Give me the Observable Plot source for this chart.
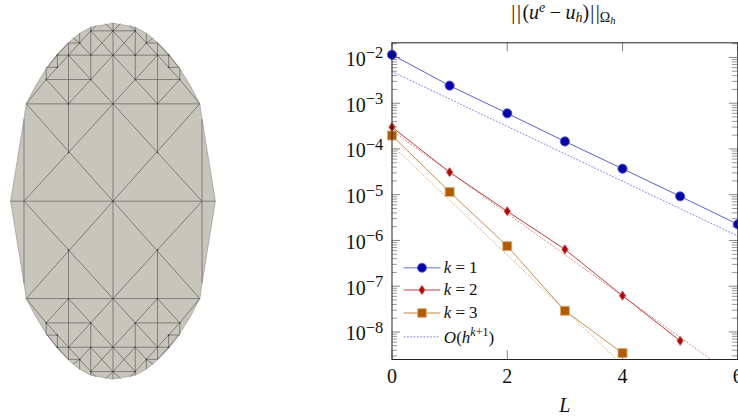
<!DOCTYPE html>
<html>
<head>
<meta charset="utf-8">
<script src="https://cdn.jsdelivr.net/npm/d3@7"></script>
<script src="https://cdn.jsdelivr.net/npm/@observablehq/plot@0.6"></script>
<style>
html,body{margin:0;padding:0;background:#fff;overflow:hidden}
#wrap{position:relative;width:738px;height:417px;overflow:hidden}
#wrap svg{position:absolute;left:0;top:0;background:none;overflow:visible}
</style>
</head>
<body>
<div id="wrap"></div>
<script>
// ---- convergence data
const levels = [0,1,2,3,4,5,6];
const k1Values = [1.145e-2,2.42e-3,6.0e-4,1.46e-4,3.7e-5,9.2e-6,2.26e-6];
const k2Values = [3.0e-4,3.1e-5,4.35e-6,6.4e-7,6.2e-8,6.4e-9];
const k3Values = [1.97e-4,1.15e-5,7.5e-7,2.9e-8,3.45e-9];
const rateLevels = [0,6];
const rate1Values = [4.9e-3,1.25e-6];
const rate2Levels = [0,6];
const rate2Values = [2.5e-4,9.5e-10];
const rate3Levels = [0,5];
const rate3Values = [1.2e-4,1.2e-10];
const xTicks = [0,2,4,6];
const decades = [-2,-3,-4,-5,-6,-7,-8];
const minorFactors = [2,3,4,5,6,7,8,9];
const yDomain = [2.5e-9,2.09e-2];
const xDomain = [0,6];
// legend rows
const legendX = [0.21,0.83];
const legendMarkX = 0.52;
const legendTextX = 0.9;
const legendY = [2.53e-7,8.26e-8,2.6e-8,7.8e-9];
// colours
const blueLine="#5a5fd0", blueFill="#0505a5", blueEdge="#5a5ad8";
const redLine="#c2403f", redFill="#a80a0a", redEdge="#cc5a5a";
const orangeLine="#c98c4c", orangeFill="#b05c00", orangeEdge="#dcae80";

// ---- mesh (one quadrant, mirrored)
const outlineQuadrant = [[0,14.62],[2,14.3],[3,13.8],[4,13.05],[5,12.1],[6,10.9],[7,9.4],[7.8,8],[8,6.75],[9.2,0]];
const axisEdges = [[0,-14.62,0,14.62],[-9.2,0,9.2,0]];
const quadrantEdges = [
 [8,0,8,6.75],[0,8,7.8,8],[0,0,7.8,8],[8,0,0,8],[4,4,4,13],
 [0,8,2,10],[2,10,4,12],[4,8,6,10],[4,8,2,10],[2,10,0,12],[6,10,7.8,8],[6,10,4,12],
 [2,10,6,10],[2,10,2,14.3],[0,12,5,12],[0,14,2,14],[0,12,2,14],[2,12,0,14],[4,12,2,14],
 [2,12,3,13],[3,13,3.6,13.4],[3,13,4,13],[3,13,3,13.8],[4,13,5,12],[5,11,5,12],[5,12,6,10.9],
 [5,11,6,11],[6,10,6,10.9],[0,14,0.7,14.6],[2,14,1.5,14.45]
];
const quadrantNodes = [[2,14],[2,12],[4,12],[3,13],[2,10],[6,10],[4,8],[5,12],[5,11],[4,4]];
const axisNodes = [[0,14],[0,12],[0,8],[0,0],[0,-8],[0,-12],[0,-14]];
const signs = [[1,1],[-1,1],[1,-1],[-1,-1]];

const outline = [
  ...outlineQuadrant,
  ...outlineQuadrant.slice(0,-1).reverse().map(([u,v])=>[u,-v]),
  ...outlineQuadrant.slice(1).map(([u,v])=>[-u,-v]),
  ...outlineQuadrant.slice(0,-1).reverse().map(([u,v])=>[-u,v])
];
const edges = axisEdges.concat(signs.flatMap(([a,b])=>quadrantEdges.map(([p,q,r,s])=>[a*p,b*q,a*r,b*s])));
const nodes = axisNodes.concat(signs.flatMap(([a,b])=>quadrantNodes.map(([p,q])=>[a*p,b*q])));

const meshPlot = Plot.plot({
  width:230, height:417, margin:0,
  x:{domain:[-10,10],range:[1.25,223.75],axis:null},
  y:{domain:[-16,16],range:[395.4,6],axis:null},
  marks:[
    Plot.line(outline,{x:d=>d[0],y:d=>d[1],fill:"#c8c5bd",stroke:"#9a9993",strokeWidth:0.7,curve:"linear-closed"}),
    Plot.link(edges,{x1:d=>d[0],y1:d=>d[1],x2:d=>d[2],y2:d=>d[3],stroke:"#565652",strokeWidth:0.75,strokeOpacity:0.85}),
    Plot.dot(nodes,{x:d=>d[0],y:d=>d[1],r:0.85,fill:"#44443f"})
  ]
});

// ---- rich (math) labels
const big = 20, exp = 16.5, legendSup = 12, titleSup = 14;
const power = e => [{s:"10",size:big},{s:"\u2212"+e,size:exp,rise:7.5}];
const keyLabel = i => "k = "+i;
const math = new Map([
  ...decades.map(d=>["1e"+d,power(-d)]),
  ...[1,2,3].map(i=>[keyLabel(i),[{s:"k",i:true},{s:"=",dx:4},{s:String(i),dx:4}]]),
  ["O(h^{k+1})",[{s:"O",i:true},{s:"("},{s:"h",i:true},{s:"k",i:true,size:legendSup,rise:7},{s:"+1",size:legendSup,rise:7},{s:")"}]],
  ["title",[{s:"|"},{s:"|",dx:1.5},{s:"(",dx:1.5},{s:"u",i:true},{s:"e",i:true,size:titleSup,rise:7},{s:"\u2212",dx:4.5},{s:"u",i:true,dx:4.5},{s:"h",i:true,size:titleSup,rise:-3},{s:")"},{s:"|",dx:1},{s:"|",dx:1.5},{s:"\u03a9",size:titleSup,rise:-3},{s:"h",i:true,size:10.5,rise:-5.5}]]
]);
function applyMath(svg){
  d3.select(svg).selectAll("text").each(function(){
    const spans = math.get(this.textContent);
    if(!spans) return;
    const t = d3.select(this).text("");
    let prev = 0;
    for(const sp of spans){
      const rise = sp.rise||0;
      const ts = t.append("tspan").text(sp.s).attr("dy",prev-rise);
      if(sp.dx) ts.attr("dx",sp.dx);
      if(sp.size) ts.attr("font-size",sp.size);
      if(sp.i) ts.attr("font-style","italic");
      prev = rise;
    }
  });
}

// ---- convergence plot
const series = (xs,ys)=>ys.map((v,i)=>({L:xs[i],v}));
const thinDiamond = {draw(ctx,size){const r=Math.sqrt(size/Math.PI);ctx.moveTo(0,-r);ctx.lineTo(r*0.68,0);ctx.lineTo(0,r);ctx.lineTo(-r*0.68,0);ctx.closePath();}};
const minorValues = decades.concat([-9,-1]).flatMap(e=>minorFactors.map(f=>f*10**e)).filter(v=>v>yDomain[0]&&v<yDomain[1]);
const majorValues = decades.map(e=>10**e);
const frameW = 345.8, frameH = 316.7;
const dash = "1,2.3";
const rows = [
  {y:legendY[0],line:"#9a9ee4",w:1.6,fill:blueFill,edge:blueEdge,sym:"circle",r:4.5,label:keyLabel(1)},
  {y:legendY[1],line:redLine,w:1,fill:redFill,edge:redEdge,sym:thinDiamond,r:4.6,label:keyLabel(2)},
  {y:legendY[2],line:"#dcae80",w:1.6,fill:orangeFill,edge:orangeEdge,sym:"square",r:4.9,label:keyLabel(3)}
];
const lineMark=(d,stroke,w=1)=>Plot.line(d,{x:"L",y:"v",stroke,strokeWidth:w,clip:"frame"});
const dotted=(d,stroke)=>Plot.line(d,{x:"L",y:"v",stroke,strokeWidth:0.8,strokeDasharray:dash,clip:"frame"});
const markers=(d,fill,edge,symbol,r)=>Plot.dot(d,{x:"L",y:"v",fill,stroke:edge,strokeWidth:0.9,symbol,r});

const chart = Plot.plot({
  width:738, height:417,
  marginLeft:391.5, marginRight:0.7, marginTop:42.3, marginBottom:58,
  style:{fontFamily:"'Liberation Serif',serif",color:"#111",background:"none"},
  x:{domain:xDomain,label:null},
  y:{type:"log",domain:yDomain,label:null},
  marks:[
    Plot.tickY(minorValues,{y:d=>d,insetRight:frameW-5.5,stroke:"#333",strokeWidth:0.5}),
    Plot.tickY(minorValues,{y:d=>d,insetLeft:frameW-5.5,stroke:"#333",strokeWidth:0.5}),
    Plot.tickY(majorValues,{y:d=>d,insetRight:frameW-8.5,stroke:"#333",strokeWidth:0.6}),
    Plot.tickY(majorValues,{y:d=>d,insetLeft:frameW-8.5,stroke:"#333",strokeWidth:0.6}),
    Plot.tickX(xTicks,{x:d=>d,insetBottom:frameH-9,stroke:"#333",strokeWidth:0.6}),
    Plot.tickX(xTicks,{x:d=>d,insetTop:frameH-9,stroke:"#333",strokeWidth:0.6}),
    Plot.axisY({ticks:majorValues,tickSize:0,tickPadding:8.8,anchor:"left",label:null,fontSize:big,dy:2,
      tickFormat:d=>"1e"+Math.round(Math.log10(d))}),
    Plot.axisX({ticks:xTicks,tickSize:0,tickPadding:9,anchor:"bottom",label:null,fontSize:big,tickFormat:d=>String(d)}),
    dotted(series(rateLevels,rate1Values),blueLine),
    dotted(series(rate2Levels,rate2Values),"#d65a5a"),
    dotted(series(rate3Levels,rate3Values),"#d4925a"),
    lineMark(series(levels,k1Values),blueLine),
    lineMark(series(levels,k2Values),redLine),
    lineMark(series(levels,k3Values),orangeLine),
    markers(series(levels,k1Values),blueFill,blueEdge,"circle",4.6),
    markers(series(levels,k2Values),redFill,redEdge,thinDiamond,4.6),
    markers(series(levels,k3Values),orangeFill,orangeEdge,"square",5.1),
    Plot.frame({stroke:"#222",strokeWidth:1}),
    // legend
    ...rows.flatMap(r=>[
      Plot.line(legendX,{x:d=>d,y:()=>r.y,stroke:r.line,strokeWidth:r.w}),
      Plot.dot([legendMarkX],{x:d=>d,y:()=>r.y,fill:r.fill,stroke:r.edge,strokeWidth:0.9,symbol:r.sym,r:r.r}),
      Plot.text([r.label],{x:()=>legendTextX,y:()=>r.y,text:d=>d,textAnchor:"start",fontSize:17,dy:0})
    ]),
    Plot.line(legendX,{x:d=>d,y:()=>legendY[3],stroke:blueLine,strokeWidth:0.8,strokeDasharray:dash}),
    Plot.text(["O(h^{k+1})"],{x:()=>legendTextX,y:()=>legendY[3],text:d=>d,textAnchor:"start",fontSize:17,dy:0.5}),
    // titles
    Plot.text(["title"],{frameAnchor:"top",text:d=>d,fontSize:20,lineAnchor:"bottom",dy:-24,dx:-1.5}),
    Plot.text(["L"],{frameAnchor:"bottom",text:d=>d,fontSize:20,fontStyle:"italic",lineAnchor:"bottom",dy:52})
  ]
});
applyMath(chart);
const wrap = document.getElementById("wrap");
wrap.append(meshPlot, chart);
</script>
</body>
</html>
